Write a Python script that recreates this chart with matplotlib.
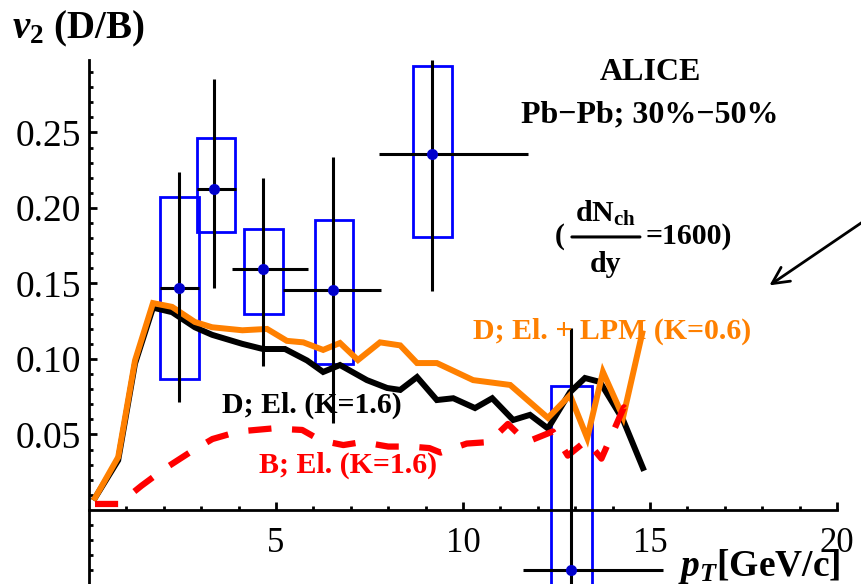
import matplotlib
matplotlib.use('Agg')
import matplotlib.pyplot as plt

plt.rcParams['font.family'] = ['Liberation Serif', 'DejaVu Serif']
plt.rcParams['mathtext.fontset'] = 'custom'
plt.rcParams['mathtext.rm'] = 'Liberation Serif:bold'
plt.rcParams['mathtext.it'] = 'Liberation Serif:bold:italic'
plt.rcParams['mathtext.bf'] = 'Liberation Serif:bold'

# model curves: D meson elastic (K=1.6)
d_el_pt = [0.16, 0.78, 1.23, 1.71, 2.22, 2.83, 3.29, 4.1, 4.65, 5.24, 5.83, 6.26, 6.71,
           7.43, 7.97, 8.32, 8.77, 9.3, 9.74, 10.32, 10.78, 11.34, 11.79, 12.27, 12.86,
           13.26, 13.66, 14.28, 14.81]
d_el_v2 = [0.008, 0.033, 0.097, 0.134, 0.131, 0.121, 0.116, 0.110, 0.1066, 0.1066, 0.099,
           0.0914, 0.096, 0.086, 0.0808, 0.0795, 0.088, 0.0728, 0.074, 0.0675, 0.074,
           0.0596, 0.063, 0.054, 0.078, 0.0874, 0.0848, 0.0596, 0.0278]

# D meson elastic + LPM (K=0.6)
d_lpm_pt = [0.16, 0.78, 1.23, 1.71, 2.22, 2.83, 3.29, 4.1, 4.76, 5.29, 5.73, 6.26, 6.71,
            7.19, 7.78, 8.32, 8.77, 9.3, 10.27, 11.26, 12.27, 12.86, 13.32, 13.74, 14.28,
            14.79]
d_lpm_v2 = [0.008, 0.035, 0.099, 0.137, 0.1345, 0.1245, 0.121, 0.119, 0.1199, 0.112, 0.111,
            0.106, 0.1106, 0.0993, 0.111, 0.109, 0.0973, 0.0973, 0.086, 0.0828, 0.061,
            0.076, 0.0477, 0.0914, 0.0616, 0.117]

# B meson elastic (K=1.6)
b_el_pt = [0.16, 0.8, 1.4, 2.0, 2.75, 3.3, 4.0, 4.9, 5.7, 6.2, 6.8, 7.3, 8.0, 8.6, 9.1,
           9.4, 10.1, 10.7, 11.2, 11.7, 12.4, 12.8, 13.3, 13.7, 14.3, 14.6]
b_el_v2 = [0.004, 0.004, 0.016, 0.027, 0.039, 0.047, 0.052, 0.054, 0.053, 0.046, 0.043,
           0.045, 0.042, 0.042, 0.041, 0.038, 0.044, 0.045, 0.057, 0.045, 0.052, 0.036,
           0.046, 0.034, 0.068, 0.059]

# ALICE data: points, stat errors, syst boxes
alice_pt = [2.41, 3.35, 4.66, 6.53, 9.17, 12.89]
alice_v2 = [0.147, 0.2126, 0.1596, 0.1457, 0.2355, -0.0397]
alice_pt_lo = [1.9, 2.89, 3.82, 5.19, 7.75, 11.6]
alice_pt_hi = [2.94, 3.93, 5.86, 7.8, 11.74, 15.35]
alice_stat_lo = [0.0715, 0.147, 0.0954, 0.0576, 0.145, -0.20]
alice_stat_hi = [0.224, 0.2854, 0.22, 0.234, 0.298, 0.1205]
box_pt_lo = [1.9, 2.89, 4.14, 6.04, 8.66, 12.35]
box_pt_hi = [2.94, 3.90, 5.19, 7.06, 9.71, 13.45]
box_v2_lo = [0.087, 0.184, 0.130, 0.097, 0.181, -0.161]
box_v2_hi = [0.207, 0.2464, 0.186, 0.192, 0.294, 0.082]

fig = plt.figure(figsize=(8.61, 5.84), dpi=100)
ax = fig.add_axes([0, 0, 1, 1])
ax.set_xlim(-2.38, 20.64)
ax.set_ylim(-0.049, 0.3377)

for s in ['top', 'right']:
    ax.spines[s].set_visible(False)
ax.spines['left'].set_position(('data', 0))
ax.spines['bottom'].set_position(('data', 0))
ax.spines['left'].set_bounds(-0.06, 0.298)
ax.spines['bottom'].set_bounds(0, 20)
for s in ['left', 'bottom']:
    ax.spines[s].set_linewidth(2)

ax.set_xticks([5, 10, 15, 20])
ax.set_xticks([i for i in range(1, 20) if i % 5], minor=True)
ax.set_yticks([0.05, 0.10, 0.15, 0.20, 0.25])
ax.set_yticklabels(['0.05', '0.10', '0.15', '0.20', '0.25'])
ax.set_yticks([i / 100 for i in range(-5, 30) if i % 5 and i != 0], minor=True)
ax.tick_params(which='both', direction='in', width=2)
ax.tick_params(which='major', length=6)
ax.tick_params(which='minor', length=3)
ax.tick_params(axis='x', pad=12, labelsize=25)
ax.tick_params(axis='y', pad=6, labelsize=27)

# boxes and error bars
ax.bar([(a + b) / 2 for a, b in zip(box_pt_lo, box_pt_hi)],
       [b - a for a, b in zip(box_v2_lo, box_v2_hi)],
       width=[b - a for a, b in zip(box_pt_lo, box_pt_hi)],
       bottom=box_v2_lo, fill=False, edgecolor='#0000ff', linewidth=2, zorder=2)

ax.plot(d_el_pt, d_el_v2, color='black', lw=4.3, solid_joinstyle='miter', zorder=3)
ax.plot(d_lpm_pt, d_lpm_v2, color='#ff8000', lw=4.3, solid_joinstyle='miter', zorder=4)
ax.plot(b_el_pt, b_el_v2, color='#ff0000', lw=4.5, dashes=(3.7, 3.3), zorder=5)

ax.errorbar(alice_pt, alice_v2,
            xerr=[[p - lo for p, lo in zip(alice_pt, alice_pt_lo)],
                  [hi - p for p, hi in zip(alice_pt, alice_pt_hi)]],
            yerr=[[p - lo for p, lo in zip(alice_v2, alice_stat_lo)],
                  [hi - p for p, hi in zip(alice_v2, alice_stat_hi)]],
            fmt='o', color='#0000cc', ms=7, ecolor='black', elinewidth=2.2,
            capsize=0, zorder=6)

fig.text(12 / 861, 1 - 38 / 584, r'$v_{2}$ (D/B)', fontsize=28, fontweight='bold',
         ha='left', va='baseline')

ax.text(15.0, 0.290, 'ALICE', fontsize=23, fontweight='bold', ha='center', va='center')
ax.text(15.0, 0.2616, 'Pb\u2212Pb; 30%\u221250%', fontsize=23, fontweight='bold',
        ha='center', va='center')

# (dN_ch/dy = 1600) built from pieces
frac_kw = dict(fontsize=21.5, fontweight='bold')
ax.text(12.59, 0.1808, '(', ha='center', va='center', **frac_kw)
ax.text(13.80, 0.1907, r'dN$_{\mathrm{ch}}$', ha='center', va='baseline', **frac_kw)
ax.annotate('', xy=(14.73, 0.1808), xytext=(12.91, 0.1808),
            arrowprops=dict(arrowstyle='-', lw=2.2, color='black',
                            shrinkA=0, shrinkB=0))
ax.text(13.82, 0.1576, 'dy', ha='center', va='baseline', **frac_kw)
ax.text(14.87, 0.1808, '=1600)', ha='left', va='center', **frac_kw)

ax.text(13.98, 0.118, 'D; El. + LPM (K=0.6)', fontsize=21.5, fontweight='bold',
        color='#ff8000', ha='center', va='center', zorder=7)
ax.text(5.96, 0.0695, 'D; El. (K=1.6)', fontsize=21.5, fontweight='bold',
        color='black', ha='center', va='center', zorder=7)
ax.text(6.93, 0.0298, 'B; El. (K=1.6)', fontsize=21.5, fontweight='bold',
        color='#ff0000', ha='center', va='center', zorder=7)

ax.annotate('', xy=(18.13, 0.1477), xytext=(21.02, 0.1964),
            arrowprops=dict(arrowstyle='->', lw=2, color='black', mutation_scale=30))

ax.text(20.1, -0.0435, r'$p_{T}$[GeV/c]', fontsize=27, fontweight='bold',
        ha='right', va='baseline', zorder=8)

fig.savefig('out.png', dpi=100)
